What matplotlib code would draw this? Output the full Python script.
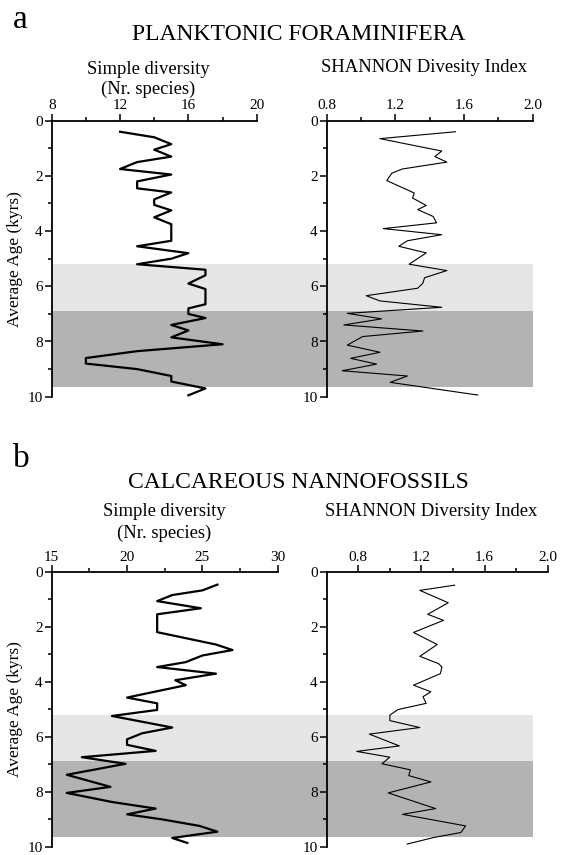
import matplotlib
matplotlib.use('Agg')
import matplotlib.pyplot as plt
import matplotlib.transforms as mtrans
from matplotlib.patches import Rectangle
from matplotlib.ticker import MultipleLocator

plt.rcParams['font.family'] = ['Liberation Serif', 'DejaVu Serif']

#%% data

# a - planktonic foraminifera, simple diversity (Nr. species)
age_fa = [0.4, 0.6, 0.85, 1.05, 1.3, 1.5, 1.75, 1.95, 2.2, 2.45, 2.6, 2.85, 3.05,
          3.25, 3.5, 3.75, 4.35, 4.55, 4.8, 5.0, 5.2, 5.4, 5.6, 5.9, 6.1, 6.65,
          6.8, 7.0, 7.15, 7.4, 7.6, 7.85, 8.1, 8.35, 8.6, 8.8, 9.0, 9.25, 9.45,
          9.7, 9.95]
div_fa = [12, 14, 15, 14, 15, 13, 12, 15, 13, 13, 15, 14, 14,
          15, 14, 15, 15, 13, 16, 15, 13, 17, 17, 16, 17, 17,
          16, 16, 17, 15, 16, 15, 18, 13, 10, 10, 13, 15, 15,
          17, 16]

# a - planktonic foraminifera, Shannon index
age_fa_h = [0.4, 0.65, 1.1, 1.3, 1.5, 1.75, 1.9, 2.17, 2.62, 2.8, 3.07, 3.22,
            3.47, 3.7, 3.91, 4.13, 4.35, 4.55, 4.79, 5.2, 5.43, 5.69, 5.89,
            6.07, 6.34, 6.53, 6.76, 6.98, 7.18, 7.4, 7.62, 7.82, 8.13, 8.39,
            8.61, 8.82, 9.06, 9.25, 9.48, 9.94]
sh_fa = [1.55, 1.11, 1.47, 1.43, 1.5, 1.24, 1.18, 1.15, 1.31, 1.3, 1.38, 1.33,
         1.42, 1.44, 1.13, 1.47, 1.27, 1.22, 1.38, 1.28, 1.5, 1.37, 1.36,
         1.33, 1.03, 1.11, 1.47, 0.92, 1.12, 0.9, 1.36, 1.01, 0.92, 1.11,
         0.94, 1.09, 0.89, 1.27, 1.17, 1.68]

# b - calcareous nannofossils, simple diversity (Nr. species)
age_nb = [0.47, 0.68, 0.85, 1.07, 1.33, 1.55, 2.2, 2.65, 2.85, 3.05, 3.29,
          3.47, 3.71, 3.95, 4.13, 4.58, 4.79, 5.03, 5.25, 5.67, 5.88, 6.1,
          6.3, 6.52, 6.75, 6.99, 7.39, 7.83, 8.05, 8.38, 8.62, 8.83, 9.01,
          9.25, 9.46, 9.69, 9.87]
div_nb = [26, 25, 23, 22, 24.9, 22, 22, 25.9, 27, 25, 23.9,
          22, 25.9, 23.2, 23.9, 20, 22, 22, 19, 23, 21, 20,
          20, 21.9, 17, 19.9, 16, 18.9, 16, 19, 21.9, 20, 22.3,
          24.8, 26, 23, 24]

# b - calcareous nannofossils, Shannon index
age_nb_h = [0.49, 0.68, 1.13, 1.55, 1.77, 2.21, 2.65, 3.08, 3.35, 3.47, 3.71,
            4.13, 4.37, 4.55, 4.79, 5.02, 5.22, 5.42, 5.67, 5.91, 6.34, 6.54,
            6.75, 6.99, 7.21, 7.42, 7.65, 8.05, 8.62, 8.83, 9.25, 9.49, 9.67,
            9.91]
sh_nb = [1.41, 1.19, 1.37, 1.24, 1.34, 1.15, 1.3, 1.19, 1.31, 1.33, 1.32,
         1.15, 1.26, 1.21, 1.23, 1.05, 1.0, 1.0, 1.19, 0.87, 1.06, 0.79,
         1.0, 0.95, 1.13, 1.12, 1.26, 0.99, 1.29, 1.08, 1.48, 1.45, 1.28,
         1.11]

# interval shading (kyrs)
band_light = (5.2, 6.9)
band_dark = (6.9, 9.65)

#%% layout helpers (pixels of a 562x855 image)

W, H = 562., 855.
fig = plt.figure(figsize=(W/100, H/100), dpi=100)

def box(x0, x1, y0, y1):
    return [x0/W, 1 - y1/H, (x1 - x0)/W, (y1 - y0)/H]

def ftext(x, y, s, **kw):
    fig.text(x/W, 1 - y/H, s, **kw)

def style(ax, xlim, major, minor, pad):
    ax.set_facecolor('none')
    ax.set_xlim(xlim)
    ax.set_ylim(10, 0)
    ax.xaxis.set_major_locator(MultipleLocator(major))
    ax.xaxis.set_minor_locator(MultipleLocator(minor))
    ax.yaxis.set_major_locator(MultipleLocator(2))
    ax.yaxis.set_minor_locator(MultipleLocator(1))
    ax.xaxis.tick_top()
    ax.spines['right'].set_visible(False)
    ax.spines['bottom'].set_visible(False)
    for s in ['left', 'top']:
        ax.spines[s].set_linewidth(1.3)
    ax.tick_params(which='both', direction='out', width=1.1, labelsize=11,
                   top=True, bottom=False, left=True, right=False)
    ax.tick_params(axis='x', which='major', pad=pad)
    ax.tick_params(axis='y', which='major', pad=1.5)
    ax.tick_params(which='major', length=5)
    ax.tick_params(which='minor', length=3)

#%% panel a

ax1 = fig.add_axes(box(51.7, 256.7, 120.7, 396.7))
ax2 = fig.add_axes(box(326.7, 532.7, 120.7, 396.7))
ax1.plot(div_fa, age_fa, color='k', lw=1.6, zorder=3)
ax2.plot(sh_fa, age_fa_h, color='k', lw=0.8, zorder=3)
style(ax1, (8, 20), 4, 2, 1.5)
style(ax2, (0.8, 2.0), 0.4, 0.2, 1.5)
ax2.xaxis.set_major_formatter(plt.FormatStrFormatter('%.1f'))
ax1.set_ylabel('Average Age (kyrs)', fontsize=12.5, labelpad=3)

#%% panel b

ax3 = fig.add_axes(box(51.7, 277.7, 571.7, 846.5))
ax4 = fig.add_axes(box(326.7, 547.7, 571.7, 846.5))
ax3.plot(div_nb, age_nb, color='k', lw=1.6, zorder=3)
ax4.plot(sh_nb, age_nb_h, color='k', lw=0.8, zorder=3)
style(ax3, (15, 30), 5, 2.5, 0.2)
style(ax4, (0.6, 2.0), 0.4, 0.2, 0.2)
ax4.set_xticks([0.8, 1.2, 1.6, 2.0])
ax4.set_xticks([1.0, 1.4, 1.8], minor=True)
ax4.xaxis.set_major_formatter(plt.FormatStrFormatter('%.1f'))
ax3.set_ylabel('Average Age (kyrs)', fontsize=12.5, labelpad=3)

# shading spans across both columns of each panel
for axl, xr in [(ax1, 532.7), (ax3, 533.3)]:
    tr = mtrans.blended_transform_factory(fig.transFigure, axl.transData)
    for (y0, y1), c in [(band_light, '#e6e6e6'), (band_dark, '#b3b3b3')]:
        fig.patches.append(Rectangle((51.7/W, y0), (xr - 51.7)/W, y1 - y0,
                                     transform=tr, facecolor=c,
                                     edgecolor='none', zorder=-1))

#%% texts

ftext(13, 28, 'a', fontsize=24, ha='left', va='baseline')
ftext(299, 34, 'PLANKTONIC FORAMINIFERA', fontsize=17, ha='center', va='center')
ftext(148.5, 69, 'Simple diversity', fontsize=13.4, ha='center', va='center')
ftext(148.5, 89, '(Nr. species)', fontsize=13.4, ha='center', va='center')
ftext(424, 68, 'SHANNON Divesity Index', fontsize=13.4, ha='center', va='center')

ftext(13, 467, 'b', fontsize=24, ha='left', va='baseline')
ftext(298.5, 482, 'CALCAREOUS NANNOFOSSILS', fontsize=17, ha='center', va='center')
ftext(164, 512, 'Simple diversity', fontsize=13.4, ha='center', va='center')
ftext(164, 533, '(Nr. species)', fontsize=13.4, ha='center', va='center')
ftext(431, 512, 'SHANNON Diversity Index', fontsize=13.4, ha='center', va='center')

plt.savefig('out.png', dpi=100)
